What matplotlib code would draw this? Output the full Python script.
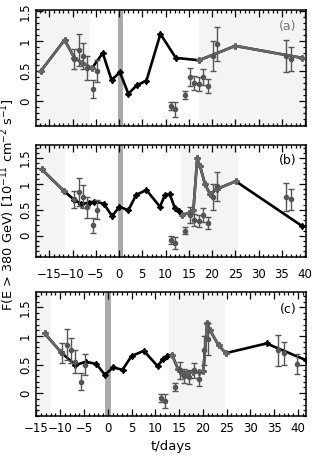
import matplotlib
matplotlib.use("Agg")
import matplotlib.pyplot as plt
from matplotlib.ticker import MultipleLocator
import numpy as np


# light curve points (stars, joined by line), one set per panel
a_t = [-16.8, -11.7, -9.6, -8.0, -5.8, -3.5, -1.6, 0.2, 2.0, 3.8, 5.9, 8.9, 12.2, 17.2, 25.0, 39.3]
a_f = [0.50, 1.02, 0.72, 0.64, 0.55, 0.80, 0.35, 0.48, 0.12, 0.26, 0.34, 1.12, 0.72, 0.68, 0.92, 0.72]

b_t = [-16.6, -11.8, -9.6, -8.1, -6.5, -5.3, -3.3, -1.5, 0.1, 2.0, 3.7, 5.9, 8.8, 9.9, 10.9,
       12.0, 12.8, 13.5, 15.0, 16.0, 16.8, 17.4, 18.5, 19.6, 21.0, 25.1, 39.3]
b_f = [1.28, 0.86, 0.69, 0.61, 0.64, 0.66, 0.62, 0.38, 0.56, 0.49, 0.79, 0.88, 0.56, 0.79, 0.81,
       0.53, 0.47, 0.40, 0.44, 0.50, 1.49, 1.35, 0.99, 0.80, 0.90, 1.05, 0.19]

c_t = [-13.3, -9.9, -6.8, -4.6, -2.4, -0.6, 1.1, 3.1, 5.0, 7.6, 10.5, 11.6, 12.5, 13.5, 14.8,
       15.6, 16.7, 17.9, 19.1, 20.1, 20.9, 21.5, 23.3, 24.8, 33.4, 41.6]
c_f = [1.05, 0.72, 0.49, 0.55, 0.51, 0.32, 0.45, 0.41, 0.65, 0.74, 0.47, 0.60, 0.65, 0.67, 0.42,
       0.36, 0.36, 0.37, 0.37, 0.39, 1.22, 1.10, 0.84, 0.70, 0.87, 0.58]

# measured fluxes with errors (same in every panel)
obs_t = [-9.6, -8.6, -7.8, -6.8, -5.7, -4.8, 11.1, 12.0, 14.1, 15.2, 16.1, 17.1, 18.1, 19.1,
         20.2, 21.0, 35.9, 37.0]
obs_f = [0.70, 0.85, 0.75, 0.55, 0.20, 0.50, -0.08, -0.14, 0.10, 0.40, 0.30, 0.28, 0.40, 0.25,
         0.75, 0.95, 0.75, 0.70]
obs_e = [0.17, 0.27, 0.22, 0.20, 0.15, 0.18, 0.07, 0.12, 0.07, 0.15, 0.12, 0.12, 0.13, 0.12,
         0.25, 0.28, 0.27, 0.20]
# one more point only inside panel (c)
extra_t = [39.7]
extra_f = [0.51]
extra_e = [0.17]

panels = [
    dict(t=a_t, f=a_f, label="(a)", lab_col="#777777",
         xlim=(-17.85, 40.2), ylim=(-0.42, 1.52),
         shade=[(-17.85, -6.2), (17.1, 40.2)], band=(-0.15, 0.95),
         grey_runs=[(0, 4), (13, 15)], rect=[0.1154, 0.730, 0.8654, 0.2486], xpad=None),
    dict(t=b_t, f=b_f, label="(b)", lab_col="black",
         xlim=(-17.85, 40.2), ylim=(-0.41, 1.75),
         shade=[(-17.85, -11.6), (13.3, 25.5)], band=(-0.15, 0.95),
         grey_runs=[(0, 1), (17, 25)], rect=[0.1154, 0.4497, 0.8654, 0.2398], xpad=8),
    dict(t=c_t, f=c_f, label="(c)", lab_col="black",
         xlim=(-15.1, 41.7), ylim=(-0.40, 1.77),
         shade=[(-15.1, -11.9), (12.8, 24.7)], band=(-0.6, 0.6),
         grey_runs=[(0, 1), (13, 23)], rect=[0.1154, 0.1092, 0.8654, 0.2655], xpad=4),
]

plt.rcParams["font.family"] = "DejaVu Sans"
fig = plt.figure(figsize=(3.12, 4.67), dpi=100)

dark = "black"
grey = "#666666"
star = (4, 1, 0)

for i, p in enumerate(panels):
    ax = fig.add_axes(p["rect"])
    for lo, hi in p["shade"]:
        ax.axvspan(lo, hi, color="#f4f4f4", lw=0, zorder=0)
    ax.axvspan(p["band"][0], p["band"][1], color="#aaaaaa", lw=0, zorder=1)

    t = np.array(p["t"])
    f = np.array(p["f"])
    ax.plot(t, f, color=dark, lw=1.9, marker=star, ms=4.5, mew=1.0, zorder=3)
    for s, e in p["grey_runs"]:
        ax.plot(t[s:e + 1], f[s:e + 1], color=grey, lw=1.9, marker=star, ms=4.5, mew=1.0, zorder=3.5)

    ax.errorbar(obs_t, obs_f, yerr=obs_e, fmt="o", ms=3, color="#555555",
                ecolor="#555555", elinewidth=1, capsize=2, capthick=1, zorder=4)
    if i == 2:
        ax.errorbar(extra_t, extra_f, yerr=extra_e, fmt="o", ms=3, color="#555555",
                    ecolor="#555555", elinewidth=1, capsize=2, capthick=1, zorder=4)

    ax.set_xlim(*p["xlim"])
    ax.set_ylim(*p["ylim"])
    ax.xaxis.set_major_locator(MultipleLocator(5))
    ax.xaxis.set_minor_locator(MultipleLocator(1))
    ax.yaxis.set_major_locator(MultipleLocator(0.5))
    ax.yaxis.set_minor_locator(MultipleLocator(0.1))
    ax.tick_params(which="both", direction="in", top=True, right=True, width=0.9)
    ax.tick_params(which="major", length=5, labelsize=8.5)
    ax.tick_params(which="minor", length=2.5)
    ax.set_yticks([0, 0.5, 1, 1.5])
    ax.set_yticklabels(["0", "0.5", "1", "1.5"], rotation=90, va="center")
    ax.tick_params(axis="y", pad=3)
    if p["xpad"] is None:
        ax.set_xticklabels([])
    else:
        ax.tick_params(axis="x", pad=p["xpad"])
    for sp in ax.spines.values():
        sp.set_linewidth(1.1)
    ax.text(0.965, 0.86, p["label"], transform=ax.transAxes, ha="right", va="center",
            fontsize=9, color=p["lab_col"])

fig.text(0.026, 0.563, r"F(E > 380 GeV) [10$^{-11}$ cm$^{-2}$ s$^{-1}$]", rotation=90,
         ha="center", va="center", fontsize=9.3)
fig.text(0.55, 0.043, "t/days", ha="center", va="center", fontsize=9.5)

fig.savefig("out.png", dpi=100)
